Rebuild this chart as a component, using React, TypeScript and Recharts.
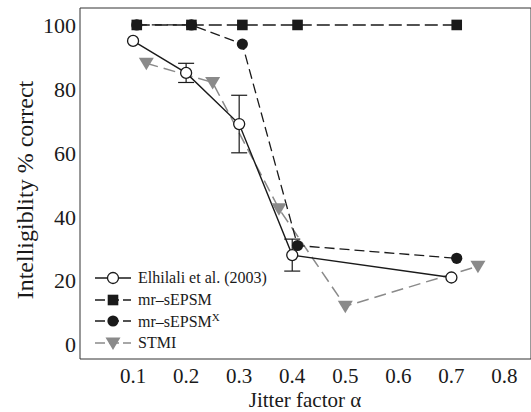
import { LineChart, Line, XAxis, YAxis, ErrorBar } from 'recharts'

const xTicks = [0.1, 0.2, 0.3, 0.4, 0.5, 0.6, 0.7, 0.8]
const yTicks = [0, 20, 40, 60, 80, 100]

const elhilaliX = [0.1, 0.2, 0.3, 0.4, 0.7]
const elhilaliY = [95, 85, 69, 28, 21]
const elhilaliErr = [0, 3, 9, 5, 0]

const sepsmX = [0.107, 0.21, 0.306, 0.41, 0.71]
const sepsmY = [100, 100, 100, 100, 100]

const sepsmXX = [0.107, 0.21, 0.306, 0.41, 0.71]
const sepsmXY = [100, 100, 94, 31, 27]

const stmiX = [0.125, 0.25, 0.375, 0.5, 0.75]
const stmiY = [88, 82, 42.5, 12, 24.5]

const elhilali = elhilaliX.map((x, i) => ({ x, y: elhilaliY[i], err: elhilaliErr[i] }))
const sepsm = sepsmX.map((x, i) => ({ x, y: sepsmY[i] }))
const sepsmx = sepsmXX.map((x, i) => ({ x, y: sepsmXY[i] }))
const stmi = stmiX.map((x, i) => ({ x, y: stmiY[i] }))

const FONT = 'Liberation Serif, Tinos, DejaVu Serif, Times New Roman, serif'
const INK = '#1a1a1a'
const GREY = '#8a8a8a'
const X_DOMAIN: [number, number] = [0, 0.85]
const Y_DOMAIN: [number, number] = [-4.5, 105.3]

const openCircle = (cx: number, cy: number) => (
  <circle cx={cx} cy={cy} r={5.5} fill="#fff" stroke={INK} strokeWidth={1.3} />
)
const filledCircle = (cx: number, cy: number) => <circle cx={cx} cy={cy} r={5.6} fill={INK} />
const square = (cx: number, cy: number) => (
  <rect x={cx - 5.3} y={cy - 5.3} width={10.6} height={10.6} fill={INK} />
)
const triangle = (cx: number, cy: number) => (
  <polygon points={`${cx - 7.5},${cy - 5.5} ${cx + 7.5},${cy - 5.5} ${cx},${cy + 7}`} fill={GREY} />
)

const dotFrom = (shape: (cx: number, cy: number) => JSX.Element) => (p: any) => (
  <g key={`d${p.index}`}>{shape(p.cx, p.cy)}</g>
)

const legendRows = [
  { label: <>Elhilali et al. (2003)</>, color: INK, dash: undefined, shape: openCircle },
  { label: <>mr–sEPSM</>, color: INK, dash: '10 4', shape: square },
  { label: <>mr–sEPSM<sup style={{ fontSize: 11 }}>X</sup></>, color: INK, dash: '10 4', shape: filledCircle },
  { label: <>STMI</>, color: GREY, dash: '10 4', shape: triangle },
]

export default function App() {
  return (
    <div style={{ position: 'absolute', left: 0, top: 0, width: 531, height: 412, background: '#fff', fontFamily: FONT }}>
      <LineChart width={531} height={412} margin={{ top: 8, right: 0, bottom: 0, left: 0 }}>
        <XAxis
          dataKey="x"
          type="number"
          domain={X_DOMAIN}
          ticks={xTicks}
          allowDataOverflow
          height={53}
          tickLine={false}
          tickSize={0}
          tickMargin={9}
          tick={{ fontSize: 21, fill: INK, fontFamily: FONT }}
          axisLine={{ stroke: '#333' }}
        />
        <XAxis
          xAxisId="bin"
          dataKey="x"
          type="number"
          domain={X_DOMAIN}
          ticks={xTicks}
          allowDataOverflow
          orientation="bottom"
          mirror
          tick={false}
          tickSize={5}
          axisLine={false}
          stroke="#333"
        />
        <XAxis
          xAxisId="top"
          dataKey="x"
          type="number"
          domain={X_DOMAIN}
          ticks={xTicks}
          allowDataOverflow
          orientation="top"
          mirror
          tick={false}
          tickSize={5}
          stroke="#333"
        />
        <YAxis
          type="number"
          domain={Y_DOMAIN}
          ticks={yTicks}
          allowDataOverflow
          width={80}
          tickLine={false}
          tickSize={0}
          tickMargin={4}
          tick={{ fontSize: 22, fill: INK, fontFamily: FONT }}
          axisLine={{ stroke: '#333' }}
        />
        <YAxis
          yAxisId="lin"
          type="number"
          domain={Y_DOMAIN}
          ticks={yTicks}
          allowDataOverflow
          orientation="left"
          mirror
          tick={false}
          tickSize={5}
          axisLine={false}
          stroke="#333"
        />
        <YAxis
          yAxisId="right"
          type="number"
          domain={Y_DOMAIN}
          ticks={yTicks}
          allowDataOverflow
          orientation="right"
          mirror
          tick={false}
          tickSize={5}
          stroke="#333"
        />
        <Line
          data={stmi}
          dataKey="y"
          type="linear"
          stroke={GREY}
          strokeWidth={1.5}
          strokeDasharray="12 6"
          dot={dotFrom(triangle)}
          activeDot={false}
          isAnimationActive={false}
        />
        <Line
          data={sepsm}
          dataKey="y"
          type="linear"
          stroke={INK}
          strokeWidth={1.5}
          strokeDasharray="13 5"
          dot={dotFrom(square)}
          activeDot={false}
          isAnimationActive={false}
        />
        <Line
          data={sepsmx}
          dataKey="y"
          type="linear"
          stroke={INK}
          strokeWidth={1.3}
          strokeDasharray="10 5"
          dot={dotFrom(filledCircle)}
          activeDot={false}
          isAnimationActive={false}
        />
        <Line
          data={elhilali}
          dataKey="y"
          type="linear"
          stroke={INK}
          strokeWidth={1.4}
          dot={dotFrom(openCircle)}
          activeDot={false}
          isAnimationActive={false}
        >
          <ErrorBar dataKey="err" direction="y" width={8} stroke={INK} strokeWidth={1.2} />
        </Line>
      </LineChart>

      <div
        style={{
          position: 'absolute', left: 25, top: 190, transform: 'translate(-50%, -50%) rotate(-90deg)',
          fontSize: 24, color: INK, whiteSpace: 'nowrap', lineHeight: 'normal',
        }}
      >
        Intelligiblity % correct
      </div>
      <div
        style={{
          position: 'absolute', left: 305, top: 394.5, transform: 'translateX(-50%)',
          fontSize: 21, color: INK, whiteSpace: 'nowrap', lineHeight: '10px',
        }}
      >
        Jitter factor α
      </div>

      <div style={{ position: 'absolute', left: 93, top: 267, fontSize: 16, color: INK }}>
        {legendRows.map((r, i) => (
          <div key={i} style={{ display: 'flex', alignItems: 'center', height: 21.8 }}>
            <svg width={40} height={20} style={{ display: 'block' }}>
              <line x1={2} y1={10} x2={38} y2={10} stroke={r.color} strokeWidth={1.4} strokeDasharray={r.dash} />
              {r.shape(20, 10)}
            </svg>
            <span style={{ marginLeft: 5, whiteSpace: 'nowrap' }}>{r.label}</span>
          </div>
        ))}
      </div>
    </div>
  )
}
